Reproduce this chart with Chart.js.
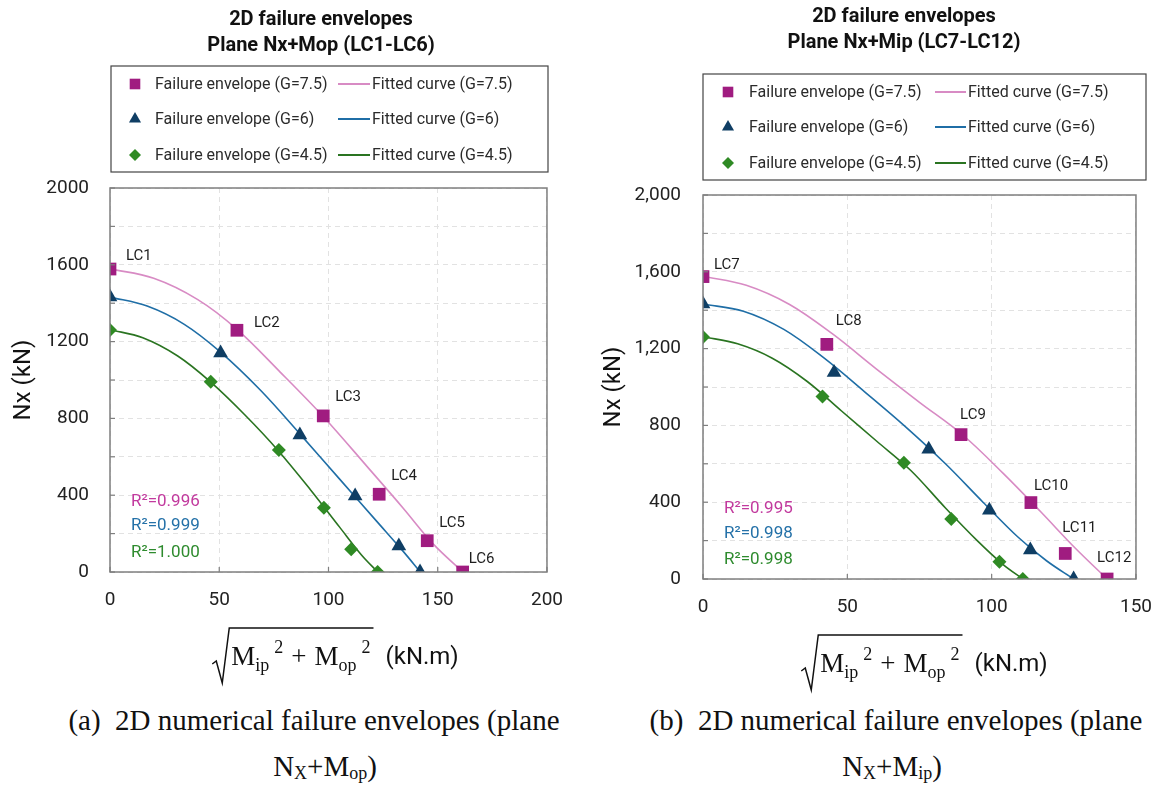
<!DOCTYPE html>
<html>
<head>
<meta charset="utf-8">
<script src="https://cdn.jsdelivr.net/npm/chart.js@4.4.1/dist/chart.umd.min.js"></script>
<style>
  html, body { margin: 0; padding: 0; background: #fff; width: 1169px; height: 801px; overflow: hidden; }
  canvas { position: absolute; top: 0; }
  #chartOP { left: 0; }
  #chartIP { left: 590px; }
  .cap { position: absolute; font-family: "Liberation Serif", "Times New Roman", serif; font-size: 29px;
         color: #111; text-align: center; white-space: nowrap; line-height: 1; }
  .cap sub { font-size: 0.62em; vertical-align: -0.18em; line-height: 0; }
</style>
</head>
<body>
<canvas id="chartOP" width="580" height="700"></canvas>
<canvas id="chartIP" width="579" height="700"></canvas>
<div class="cap" style="left:0;width:628px;top:706px">(a)&nbsp; 2D numerical failure envelopes (plane</div>
<div class="cap" style="left:0;width:650px;top:752px">N<sub>X</sub>+M<sub>op</sub>)</div>
<div class="cap" style="left:604px;width:584px;top:706px">(b)&nbsp; 2D numerical failure envelopes (plane</div>
<div class="cap" style="left:604px;width:576px;top:752px">N<sub>X</sub>+M<sub>ip</sub>)</div>
<script>
// ---------- Plane Nx+Mop (LC1-LC6) ----------
const loadCasesOP = ['LC1', 'LC2', 'LC3', 'LC4', 'LC5', 'LC6'];
const momentOP_G75 = [0, 58.1, 97.6, 123.2, 145.2, 161.4];
const axialOP_G75  = [1578, 1259, 813, 405, 163, 0];
const momentOP_G6  = [0, 50.6, 86.9, 112.2, 132.2, 141.9];
const axialOP_G6   = [1432, 1140, 713, 396, 136, 0];
const momentOP_G45 = [0, 46.1, 77.3, 97.9, 110.4, 122.5];
const axialOP_G45  = [1260, 991, 635, 334, 118, 0];

const fitOP_G75_x = [0, 20, 40, 58, 78, 98, 118, 134, 148, 161.5];
const fitOP_G75_y = [1579, 1530, 1420, 1265, 1040, 805, 545, 335, 145, 0];
const fitOP_G6_x  = [0, 17, 34, 50.6, 69, 87, 105, 122, 134, 142];
const fitOP_G6_y  = [1432, 1385, 1290, 1145, 945, 718, 485, 265, 110, 0];
const fitOP_G45_x = [0, 15, 31, 46, 62, 77, 92, 105, 115, 122.5];
const fitOP_G45_y = [1262, 1220, 1125, 990, 815, 632, 425, 235, 90, 0];
const r2OP = ['0.996', '0.999', '1.000'];

// ---------- Plane Nx+Mip (LC7-LC12) ----------
const loadCasesIP = ['LC7', 'LC8', 'LC9', 'LC10', 'LC11', 'LC12'];
const momentIP_G75 = [0, 42.9, 89.4, 113.6, 125.5, 140];
const axialIP_G75  = [1575, 1222, 752, 398, 133, 0];
const momentIP_G6  = [0, 45.4, 78.2, 99.2, 113.4, 128.4];
const axialIP_G6   = [1432, 1076, 676, 358, 151, 0];
const momentIP_G45 = [0, 41.4, 69.6, 86, 102.7, 110.8];
const axialIP_G45  = [1260, 951, 605, 312, 90, 0];

const fitIP_G75_x = [0, 15, 30, 45, 60, 75, 90, 104, 117, 129, 140];
const fitIP_G75_y = [1577, 1530, 1430, 1275, 1095, 920, 750, 550, 350, 160, 0];
const fitIP_G6_x  = [0, 14, 28, 42, 56, 70, 84, 97, 109, 119, 128.4];
const fitIP_G6_y  = [1432, 1395, 1300, 1150, 975, 795, 600, 400, 220, 95, 0];
const fitIP_G45_x = [0, 12, 24, 36, 48, 60, 72, 84, 95, 104, 110.8];
const fitIP_G45_y = [1262, 1225, 1150, 1030, 875, 720, 565, 370, 200, 75, 0];
const r2IP = ['0.995', '0.998', '0.998'];

const seriesNames = ['G=7.5', 'G=6', 'G=4.5'];
const yTicksOP = [0, 400, 800, 1200, 1600, 2000];

// styling
const markerColors = ['#A01C80', '#0F3E64', '#2F8A24'];
const curveColors  = ['#D88BC4', '#1F6EA6', '#2A7421'];
const r2Colors     = ['#C23A9E', '#2471A8', '#2E8B2E'];
const markerStyles = ['rect', 'triangle', 'rectRot'];
const markerRadius = [9, 8.5, 7];
const SANS = 'Roboto, "Open Sans", "DejaVu Sans", sans-serif';
const SERIF = '"Liberation Serif", "DejaVu Serif", serif';

const zip = (xs, ys) => xs.map((x, i) => ({ x: x, y: ys[i] }));

function buildDatasets(points, fits) {
  const ds = [];
  points.forEach((p, k) => ds.push({
    label: 'Failure envelope (' + seriesNames[k] + ')',
    data: zip(p[0], p[1]),
    showLine: false,
    pointStyle: markerStyles[k],
    pointRadius: markerRadius[k],
    pointBackgroundColor: markerColors[k],
    pointBorderColor: markerColors[k],
    pointBorderWidth: 0
  }));
  fits.forEach((f, k) => ds.push({
    label: 'Fitted curve (' + seriesNames[k] + ')',
    data: zip(f[0], f[1]),
    showLine: true,
    borderColor: curveColors[k],
    borderWidth: 1.6,
    pointRadius: 0,
    tension: 0.35,
    fill: false
  }));
  return ds;
}

// frame, inward ticks and annotations drawn on top of the plot
const decorPlugin = {
  id: 'decor',
  afterDraw(chart, args, o) {
    const ctx = chart.ctx, a = chart.chartArea;
    const xs = chart.scales.x, ys = chart.scales.y;
    ctx.save();

    // plot frame
    ctx.strokeStyle = '#7f7f7f';
    ctx.lineWidth = 1.5;
    ctx.strokeRect(a.left, a.top, a.right - a.left, a.bottom - a.top);
    ctx.lineWidth = 1.2;
    ys.ticks.forEach(t => {
      const py = ys.getPixelForValue(t.value);
      ctx.beginPath(); ctx.moveTo(a.left, py); ctx.lineTo(a.left + 5, py); ctx.stroke();
    });
    xs.ticks.forEach(t => {
      const px = xs.getPixelForValue(t.value);
      ctx.beginPath(); ctx.moveTo(px, a.bottom); ctx.lineTo(px, a.bottom - 5); ctx.stroke();
    });

    // title
    ctx.fillStyle = '#111';
    ctx.textAlign = 'center';
    ctx.textBaseline = 'middle';
    ctx.font = 'bold 20px ' + SANS;
    o.titles.forEach((t, i) => ctx.fillText(t, o.titleX, o.titleY[i]));

    // legend box
    const L = o.legend;
    ctx.strokeStyle = '#444';
    ctx.lineWidth = 1.2;
    ctx.strokeRect(L.box[0], L.box[1], L.box[2] - L.box[0], L.box[3] - L.box[1]);
    ctx.font = '16px ' + SANS;
    ctx.textAlign = 'left';
    seriesNames.forEach((n, k) => {
      const y = L.rows[k];
      ctx.fillStyle = markerColors[k];
      Chart.helpers.drawPoint(ctx, { pointStyle: markerStyles[k], radius: [7.5, 7, 6][k], rotation: 0, borderWidth: 0 }, L.markerX, y);
      ctx.fillStyle = '#2b2b2b';
      ctx.fillText(chart.data.datasets[k].label, L.textX, y + 1);
      ctx.strokeStyle = curveColors[k];
      ctx.lineWidth = 2;
      ctx.beginPath(); ctx.moveTo(L.lineX[0], y); ctx.lineTo(L.lineX[1], y); ctx.stroke();
      ctx.fillText(chart.data.datasets[k + 3].label, L.text2X, y + 1);
    });

    // load case labels beside the G=7.5 points
    ctx.font = '15px ' + SANS;
    ctx.fillStyle = '#1e1e1e';
    ctx.textBaseline = 'middle';
    const meta = chart.getDatasetMeta(0);
    o.caseLabels.forEach((lab, i) => {
      const el = meta.data[i];
      ctx.fillText(lab, el.x + o.labelDx[i], el.y + o.labelDy[i]);
    });

    // coefficients of determination
    ctx.font = '17px ' + SANS;
    o.r2.forEach((v, k) => {
      ctx.fillStyle = r2Colors[k];
      ctx.fillText('R\u00B2=' + v, o.r2X, o.r2Y[k]);
    });

    // x-axis title: sqrt(Mip^2 + Mop^2) (kN.m)
    const big = '27px ' + SERIF, small = '18px ' + SERIF;
    const parts = [
      { t: 'M', f: big, dy: 0, g: 0 },
      { t: 'ip', f: small, dy: 6, g: 0 },
      { t: '2', f: small, dy: -12, g: 5 },
      { t: '+', f: big, dy: 0, g: 8 },
      { t: 'M', f: big, dy: 0, g: 8 },
      { t: 'op', f: small, dy: 6, g: 0 },
      { t: '2', f: small, dy: -12, g: 5 }
    ];
    let exprW = 0;
    parts.forEach(p => { ctx.font = p.f; p.w = ctx.measureText(p.t).width; exprW += p.g + p.w; });
    const unitFont = '24px ' + SANS, unit = '(kN.m)';
    ctx.font = unitFont;
    const unitW = ctx.measureText(unit).width;
    const rw = 18, gapU = 12;
    const total = rw + exprW + 4 + gapU + unitW;
    const sx = (a.left + a.right) / 2 + o.xTitleShift - total / 2;
    const overY = a.bottom + 56, baseY = overY + 37;
    ctx.strokeStyle = '#111';
    ctx.lineWidth = 1.5;
    ctx.beginPath();
    ctx.moveTo(sx, overY + 36);
    ctx.lineTo(sx + 4, overY + 33);
    ctx.lineTo(sx + 10, overY + 55);
    ctx.lineTo(sx + rw - 1, overY);
    ctx.lineTo(sx + rw + exprW + 4, overY);
    ctx.stroke();
    ctx.fillStyle = '#111';
    ctx.textAlign = 'left';
    ctx.textBaseline = 'alphabetic';
    let cx = sx + rw + 1;
    parts.forEach(p => { cx += p.g; ctx.font = p.f; ctx.fillText(p.t, cx, baseY + p.dy); cx += p.w; });
    ctx.font = unitFont;
    ctx.fillText(unit, sx + rw + exprW + 4 + gapU, baseY - 1);
    ctx.restore();
  }
};

function makeChart(id, points, fits, xMax, yFmt, geo, decor) {
  return new Chart(document.getElementById(id), {
    type: 'scatter',
    data: { datasets: buildDatasets(points, fits) },
    options: {
      responsive: false,
      animation: false,
      devicePixelRatio: 1,
      layout: { padding: { left: geo.padLeft, right: geo.padRight, top: geo.padTop, bottom: 0 } },
      plugins: { legend: { display: false }, tooltip: { enabled: false }, decor: decor },
      scales: {
        x: {
          type: 'linear', min: 0, max: xMax,
          ticks: { stepSize: 50, padding: 17, color: '#222', font: { family: SANS, size: 19 } },
          grid: { color: '#e2e2e2', lineWidth: 1, drawTicks: false },
          border: { display: false, dash: [5, 4] },
          afterFit: s => { s.height = geo.xHeight; }
        },
        y: {
          type: 'linear', min: 0, max: 2000,
          ticks: {
            stepSize: 200, padding: geo.yPad, color: '#222', font: { family: SANS, size: 19 },
            callback: v => (yTicksOP.includes(v) ? yFmt(v) : '')
          },
          grid: { color: '#e2e2e2', lineWidth: 1, drawTicks: false },
          border: { display: false, dash: [5, 4] },
          title: { display: true, text: 'Nx (kN)', color: '#111', font: { family: SANS, size: 24 }, padding: { top: 4, bottom: 0 } },
          afterFit: s => { s.width = geo.yWidth; }
        }
      }
    },
    plugins: [decorPlugin]
  });
}

makeChart('chartOP',
  [[momentOP_G75, axialOP_G75], [momentOP_G6, axialOP_G6], [momentOP_G45, axialOP_G45]],
  [[fitOP_G75_x, fitOP_G75_y], [fitOP_G6_x, fitOP_G6_y], [fitOP_G45_x, fitOP_G45_y]],
  200, v => String(v),
  { padLeft: 6, padRight: 32, padTop: 188, xHeight: 128, yWidth: 104, yPad: 21 },
  {
    titles: ['2D failure envelopes', 'Plane Nx+Mop (LC1-LC6)'], titleX: 321, titleY: [20, 46],
    legend: { box: [111, 66, 548, 172], rows: [84, 119, 155], markerX: 135, textX: 155, lineX: [338, 370], text2X: 372 },
    caseLabels: loadCasesOP, labelDx: [16, 17, 12, 12, 12, 6], labelDy: [-13, -7, -19, -18, -17, -13],
    r2: r2OP, r2X: 131, r2Y: [502, 526, 553],
    xTitleShift: 7
  });

makeChart('chartIP',
  [[momentIP_G75, axialIP_G75], [momentIP_G6, axialIP_G6], [momentIP_G45, axialIP_G45]],
  [[fitIP_G75_x, fitIP_G75_y], [fitIP_G6_x, fitIP_G6_y], [fitIP_G45_x, fitIP_G45_y]],
  150, v => v.toLocaleString('en-US'),
  { padLeft: 6, padRight: 25, padTop: 195, xHeight: 121, yWidth: 107, yPad: 22 },
  {
    titles: ['2D failure envelopes', 'Plane Nx+Mip (LC7-LC12)'], titleX: 314, titleY: [17, 43],
    legend: { box: [113, 74, 556, 180], rows: [92, 127, 163], markerX: 138, textX: 159, lineX: [345, 376], text2X: 378 },
    caseLabels: loadCasesIP, labelDx: [11, 9, -1, 3, -3, -10], labelDy: [-11, -23, -19, -16, -25, -21],
    r2: r2IP, r2X: 134, r2Y: [509, 534, 560],
    xTitleShift: 5
  });
</script>
</body>
</html>
